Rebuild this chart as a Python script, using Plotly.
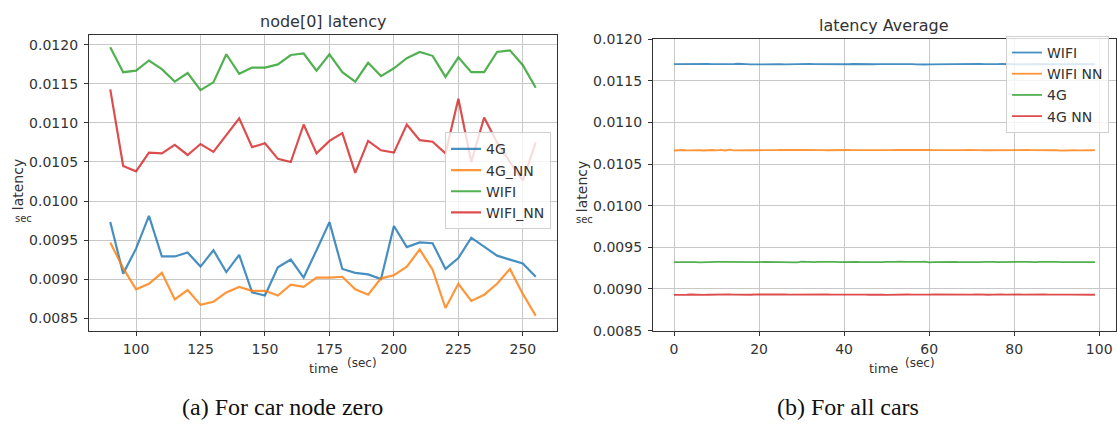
import plotly.graph_objects as go

# ---------------- node[0] latency (per 5 s sample) ----------------
node_time = list(range(90, 256, 5))

node_4g = [0.00973, 0.00907, 0.00939, 0.00981, 0.00929, 0.00929, 0.00934, 0.00916, 0.00937, 0.00909,
           0.00931, 0.00883, 0.00879, 0.00915, 0.00925, 0.00902, 0.00937, 0.00973, 0.00913, 0.00908,
           0.00906, 0.00900, 0.00968, 0.00941, 0.00947, 0.00946, 0.00913, 0.00927, 0.00953, 0.00942,
           0.00930, 0.00925, 0.00920, 0.00903]
node_4g_nn = [0.00947, 0.00914, 0.00887, 0.00894, 0.00908, 0.00874, 0.00886, 0.00867, 0.00871, 0.00883,
              0.00890, 0.00885, 0.00885, 0.00879, 0.00893, 0.00890, 0.00902, 0.00902, 0.00903, 0.00887,
              0.00880, 0.00901, 0.00905, 0.00916, 0.00938, 0.00912, 0.00863, 0.00894, 0.00872, 0.00880,
              0.00894, 0.00913, 0.00881, 0.00853]
node_wifi = [0.01197, 0.01165, 0.01167, 0.01180, 0.01169, 0.01153, 0.01164, 0.01142, 0.01152, 0.01188,
             0.01163, 0.01171, 0.01171, 0.01175, 0.01187, 0.01189, 0.01167, 0.01188, 0.01165, 0.01153,
             0.01177, 0.01160, 0.01170, 0.01183, 0.01191, 0.01186, 0.01159, 0.01184, 0.01165, 0.01165,
             0.01191, 0.01193, 0.01174, 0.01145]
node_wifi_nn = [0.01143, 0.01045, 0.01038, 0.01062, 0.01061, 0.01072, 0.01059, 0.01073, 0.01063, 0.01085,
                0.01106, 0.01069, 0.01074, 0.01054, 0.01050, 0.01098, 0.01061, 0.01077, 0.01087, 0.01036,
                0.01077, 0.01065, 0.01062, 0.01098, 0.01078, 0.01076, 0.01061, 0.01131, 0.01050, 0.01107,
                0.01075, 0.01050, 0.01026, 0.01075]

# ---------------- latency averaged over all cars ----------------
avg_time = list(range(0, 100))

avg_wifi = [0.011702, 0.011703, 0.011701, 0.011702, 0.011700, 0.011703, 0.011701, 0.011702, 0.011704, 0.011701,
            0.011700, 0.011702, 0.011699, 0.011701, 0.011702, 0.011706, 0.011700, 0.011701, 0.011699, 0.011700,
            0.011702, 0.011704, 0.011701, 0.011703, 0.011702, 0.011700, 0.011699, 0.011701, 0.011703, 0.011700,
            0.011701, 0.011702, 0.011704, 0.011701, 0.011700, 0.011702, 0.011703, 0.011702, 0.011700, 0.011701,
            0.011702, 0.011700, 0.011703, 0.011701, 0.011699, 0.011701, 0.011702, 0.011700, 0.011701, 0.011702,
            0.011703, 0.011704, 0.011702, 0.011703, 0.011705, 0.011703, 0.011702, 0.011699, 0.011695, 0.011697,
            0.011699, 0.011700, 0.011701, 0.011700, 0.011702, 0.011701, 0.011702, 0.011704, 0.011701, 0.011700,
            0.011702, 0.011703, 0.011705, 0.011702, 0.011700, 0.011701, 0.011702, 0.011703, 0.011701, 0.011698,
            0.011703, 0.011701, 0.011699, 0.011700, 0.011701, 0.011702, 0.011700, 0.011701, 0.011700, 0.011702,
            0.011701, 0.011700, 0.011701, 0.011702, 0.011700, 0.011701, 0.011700, 0.011702, 0.011700, 0.011700]
avg_wifi_nn = [0.010664, 0.010668, 0.010670, 0.010666, 0.010668, 0.010672, 0.010667, 0.010664, 0.010668, 0.010670,
               0.010666, 0.010672, 0.010664, 0.010674, 0.010666, 0.010668, 0.010670, 0.010669, 0.010668, 0.010667,
               0.010666, 0.010667, 0.010668, 0.010669, 0.010669, 0.010670, 0.010668, 0.010668, 0.010669, 0.010670,
               0.010670, 0.010668, 0.010667, 0.010669, 0.010670, 0.010668, 0.010667, 0.010669, 0.010671, 0.010668,
               0.010669, 0.010670, 0.010669, 0.010668, 0.010670, 0.010672, 0.010669, 0.010668, 0.010670, 0.010668,
               0.010667, 0.010669, 0.010670, 0.010671, 0.010669, 0.010668, 0.010670, 0.010671, 0.010669, 0.010668,
               0.010672, 0.010669, 0.010668, 0.010667, 0.010669, 0.010670, 0.010668, 0.010671, 0.010669, 0.010672,
               0.010668, 0.010670, 0.010669, 0.010667, 0.010668, 0.010670, 0.010667, 0.010669, 0.010666, 0.010668,
               0.010671, 0.010669, 0.010670, 0.010670, 0.010668, 0.010669, 0.010670, 0.010669, 0.010667, 0.010665,
               0.010667, 0.010662, 0.010666, 0.010668, 0.010667, 0.010666, 0.010669, 0.010668, 0.010667, 0.010668]
avg_4g = [0.009324, 0.009325, 0.009323, 0.009326, 0.009324, 0.009322, 0.009321, 0.009320, 0.009321, 0.009323,
          0.009325, 0.009327, 0.009326, 0.009322, 0.009325, 0.009327, 0.009326, 0.009323, 0.009321, 0.009322,
          0.009324, 0.009325, 0.009324, 0.009325, 0.009326, 0.009324, 0.009325, 0.009323, 0.009317, 0.009320,
          0.009328, 0.009325, 0.009327, 0.009322, 0.009326, 0.009324, 0.009321, 0.009322, 0.009325, 0.009324,
          0.009326, 0.009323, 0.009325, 0.009327, 0.009324, 0.009322, 0.009328, 0.009325, 0.009321, 0.009323,
          0.009325, 0.009322, 0.009326, 0.009328, 0.009323, 0.009325, 0.009327, 0.009324, 0.009326, 0.009328,
          0.009320, 0.009324, 0.009326, 0.009325, 0.009323, 0.009325, 0.009326, 0.009324, 0.009322, 0.009325,
          0.009327, 0.009324, 0.009323, 0.009325, 0.009328, 0.009326, 0.009322, 0.009324, 0.009326, 0.009321,
          0.009325, 0.009323, 0.009327, 0.009325, 0.009320, 0.009322, 0.009325, 0.009327, 0.009324, 0.009322,
          0.009326, 0.009324, 0.009323, 0.009325, 0.009327, 0.009326, 0.009324, 0.009322, 0.009325, 0.009324]
avg_4g_nn = [0.008930, 0.008928, 0.008933, 0.008931, 0.008934, 0.008930, 0.008932, 0.008929, 0.008931, 0.008933,
             0.008932, 0.008934, 0.008933, 0.008935, 0.008932, 0.008930, 0.008933, 0.008929, 0.008931, 0.008934,
             0.008935, 0.008934, 0.008935, 0.008934, 0.008933, 0.008935, 0.008934, 0.008932, 0.008933, 0.008931,
             0.008933, 0.008934, 0.008932, 0.008935, 0.008933, 0.008931, 0.008934, 0.008932, 0.008933, 0.008935,
             0.008933, 0.008934, 0.008932, 0.008934, 0.008935, 0.008933, 0.008931, 0.008933, 0.008934, 0.008932,
             0.008930, 0.008932, 0.008933, 0.008935, 0.008932, 0.008934, 0.008933, 0.008931, 0.008934, 0.008933,
             0.008932, 0.008934, 0.008933, 0.008931, 0.008933, 0.008934, 0.008932, 0.008929, 0.008932, 0.008934,
             0.008933, 0.008935, 0.008932, 0.008934, 0.008931, 0.008933, 0.008936, 0.008934, 0.008932, 0.008935,
             0.008933, 0.008934, 0.008932, 0.008934, 0.008935, 0.008933, 0.008932, 0.008934, 0.008933, 0.008931,
             0.008933, 0.008934, 0.008932, 0.008933, 0.008934, 0.008932, 0.008933, 0.008935, 0.008936, 0.008931]

left_yticks = [0.0085, 0.0090, 0.0095, 0.0100, 0.0105, 0.0110, 0.0115, 0.0120]
left_xticks = [100, 125, 150, 175, 200, 225, 250]
right_xticks = [0, 20, 40, 60, 80, 100]

BLUE, ORANGE, GREEN, RED = "#1f77b4", "#ff7f0e", "#2ca02c", "#d62728"
W, H = 1117, 433
TXT = "#333333"
SANS = "DejaVu Sans"


def fx(p):
    return p / W


def fy(p):
    return 1 - p / H


fig = go.Figure()

for name, ys, col in [("4G", node_4g, BLUE), ("4G_NN", node_4g_nn, ORANGE),
                      ("WIFI", node_wifi, GREEN), ("WIFI_NN", node_wifi_nn, RED)]:
    fig.add_trace(go.Scatter(x=node_time, y=ys, mode="lines", name=name,
                             line=dict(color=col, width=2.2), opacity=0.82,
                             xaxis="x", yaxis="y", legend="legend"))

for name, ys, col in [("WIFI", avg_wifi, BLUE), ("WIFI NN", avg_wifi_nn, ORANGE),
                      ("4G", avg_4g, GREEN), ("4G NN", avg_4g_nn, RED)]:
    fig.add_trace(go.Scatter(x=avg_time, y=ys, mode="lines", name=name,
                             line=dict(color=col, width=1.8), opacity=0.82,
                             xaxis="x2", yaxis="y2", legend="legend2"))

axis_common = dict(showline=True, mirror=True, linecolor="#333333", linewidth=1.2,
                   showgrid=True, gridcolor="#c8c8c8", gridwidth=1,
                   ticks="outside", ticklen=4, tickcolor="#333333",
                   tickfont=dict(family=SANS, size=14, color=TXT), zeroline=False)

legend_common = dict(xanchor="left", yanchor="top", bgcolor="rgba(255,255,255,0.8)",
                     bordercolor="#d0d0d0", borderwidth=1,
                     font=dict(family=SANS, size=14, color=TXT),
                     itemwidth=30, tracegroupgap=0)

fig.update_layout(
    width=W, height=H,
    margin=dict(l=0, r=0, t=0, b=0),
    paper_bgcolor="white", plot_bgcolor="white",
    showlegend=True,
    xaxis=dict(domain=[fx(89), fx(557)], range=[81.75, 263.25], tickvals=left_xticks,
               anchor="y", ticklabelstandoff=1, **axis_common),
    yaxis=dict(domain=[fy(335), fy(28)], range=[0.00834, 0.012127], tickvals=left_yticks,
               tickformat=".4f", anchor="x", ticklabelstandoff=3, **axis_common),
    xaxis2=dict(domain=[fx(653), fx(1116)], range=[-4.95, 103.95], tickvals=right_xticks,
                anchor="y2", ticklabelstandoff=1, **axis_common),
    yaxis2=dict(domain=[fy(335), fy(32.5)], range=[0.0085, 0.0120], tickvals=left_yticks,
                tickformat=".4f", anchor="x2", ticklabelstandoff=3, **axis_common),
    legend=dict(x=fx(445), y=fy(129), **legend_common),
    legend2=dict(x=fx(1006), y=fy(29), **legend_common),
)

annotations = [
    # subplot titles
    dict(text="node[0] latency", x=fx(323), y=fy(14), font=dict(size=16)),
    dict(text="latency Average", x=fx(884), y=fy(18), font=dict(size=16)),
    # y labels with "sec" unit underneath
    dict(text="latency", x=fx(18), y=fy(184), textangle=-90, font=dict(size=14)),
    dict(text="sec", x=fx(23.5), y=fy(219), font=dict(size=10)),
    dict(text="latency", x=fx(582), y=fy(186), textangle=-90, font=dict(size=14)),
    dict(text="sec", x=fx(584.5), y=fy(220), font=dict(size=10)),
    # x labels: time (sec)
    dict(text="time", x=fx(323.5), y=fy(374), font=dict(size=13)),
    dict(text="(sec)", x=fx(361.5), y=fy(369), font=dict(size=12)),
    dict(text="time", x=fx(883.5), y=fy(374), font=dict(size=13)),
    dict(text="(sec)", x=fx(919.5), y=fy(369), font=dict(size=12)),
]
for a in annotations:
    a.setdefault("xref", "paper")
    a.setdefault("yref", "paper")
    a.setdefault("showarrow", False)
    a.setdefault("xanchor", "center")
    a.setdefault("yanchor", "middle")
    a["font"] = dict(family=SANS, color=TXT, **a["font"])
    fig.add_annotation(**a)

# sub-figure captions
for text, cx in [("(a) For car node zero", 282), ("(b) For all cars", 848)]:
    fig.add_annotation(text=text, x=fx(cx), y=fy(414), xref="paper", yref="paper",
                       showarrow=False, xanchor="center", yanchor="middle",
                       font=dict(family="Liberation Serif", size=24, color="#111111"))

fig.write_html("out.html")
